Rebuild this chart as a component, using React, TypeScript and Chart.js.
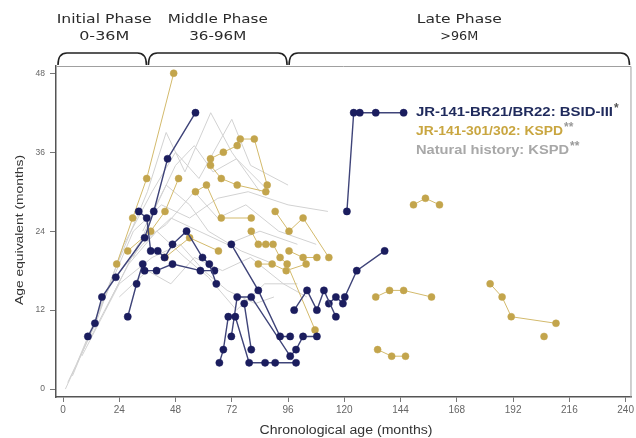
import React, { useEffect, useRef } from 'react';
import { Chart, registerables } from 'chart.js';

Chart.register(...registerables);

// ---- axis ticks ----
const xTickValues = [0, 24, 48, 72, 96, 120, 144, 168, 192, 216, 240];
const yTickValues = [0, 12, 24, 36, 48];

// ---- phases ----
const phaseNames = ['Initial Phase', 'Middle Phase', 'Late Phase'];
const phaseRanges = ['0-36M', '36-96M', '>96M'];
const phaseBounds = [null, 36, 96, null]; // null = plot edge

// ---- legend labels ----
const legendLabels = ['JR-141-BR21/BR22: BSID-III', 'JR-141-301/302: KSPD', 'Natural history: KSPD'];
const legendMarks = ['*', '**', '**'];

// ---- JR-141-BR21/BR22 (BSID-III) subjects: [chronological age, age equivalent] ----
const navyA = [[10.6, 8], [13.6, 10], [16.6, 14], [22.5, 17], [34.8, 23], [38.7, 27], [44.6, 35], [56.5, 42]];
const navyB = [[32.3, 27], [35.7, 26], [37.4, 21], [40.4, 21], [43.3, 20], [46.7, 22], [52.7, 24], [59.5, 20], [62.4, 19], [65.4, 16]];
const navyC = [[27.6, 11], [31.4, 16], [34, 19], [34.8, 18], [39.9, 18], [46.7, 19], [58.6, 18], [64.6, 18]];
const navyD = [[66.7, 4], [68.4, 6], [70.5, 11], [73.5, 11], [79.4, 4], [86.2, 4], [90.5, 4], [99.4, 4]];
const navyE = [[71.8, 22], [83.3, 15], [92.6, 8], [96.9, 8]];
const navyF = [[71.8, 8], [74.3, 14], [80.3, 14], [96.9, 5], [99.4, 6], [102.4, 8], [108.3, 8]];
const navyG = [[77.3, 13], [80.3, 6]];
const navyH = [[98.6, 12], [104.1, 15], [108.3, 12], [111.3, 15], [116.4, 11]];
const navyI = [[113.4, 13], [116.4, 14], [119.4, 13], [120.2, 14], [125.3, 18], [137.2, 21]];
const navyJ = [[121.1, 27], [124, 42], [126.6, 42], [133.4, 42], [145.3, 42]];

// ---- JR-141-301/302 (KSPD) subjects ----
const goldA = [[22.9, 19], [29.7, 26], [35.7, 32], [47.2, 48]];
const goldB = [[27.6, 21], [37.4, 24], [43.5, 27], [49.3, 32]];
const goldC = [[43.5, 20], [54, 23], [66.3, 21]];
const goldD = [[56.5, 30], [61.2, 31], [67.5, 26], [80.3, 26]];
const goldE = [[62.9, 35], [68.4, 36], [74.3, 37], [75.6, 38], [81.6, 38], [87.1, 31]];
const goldF = [[62.9, 34], [67.5, 32], [74.3, 31], [86.5, 30]];
const goldG = [[90.5, 27], [96.4, 24], [102.4, 26], [113.4, 20]];
const goldH = [[80.3, 24], [83.3, 22], [86.5, 22], [89.6, 22], [92.6, 20], [95.6, 19], [107.5, 9]];
const goldI = [[83.3, 19], [89.2, 19], [95.2, 18], [103.7, 19]];
const goldJ = [[96.4, 21], [102.4, 20], [108.3, 20]];
const goldK = [[133.4, 14], [139.3, 15], [145.3, 15], [157.2, 14]];
const goldL = [[134.2, 6], [140.2, 5], [146.1, 5]];
const goldM = [[149.5, 28], [154.6, 29], [160.6, 28]];
const goldN = [[182.2, 16], [187.3, 14], [191.2, 11], [210.3, 10]];
const goldO = [[205.2, 8]];

// ---- Natural history (KSPD) subjects ----
const histA = [[1, 0], [10, 7], [22, 18], [36, 30], [44, 39], [52, 33], [63, 42], [72, 36], [84, 30]];
const histB = [[2, 1], [14, 10], [26, 22], [38, 30], [48, 36], [58, 32], [72, 41], [80, 34], [96, 31]];
const histC = [[4, 2], [18, 14], [30, 24], [42, 28], [54, 26], [66, 29], [79, 30], [96, 28], [113, 27]];
const histD = [[6, 4], [20, 16], [34, 22], [46, 26], [58, 24], [70, 22], [84, 24], [100, 22]];
const histE = [[8, 5], [24, 16], [38, 20], [50, 22], [60, 18], [70, 15], [82, 13], [90, 14]];
const histF = [[12, 8], [28, 19], [40, 24], [52, 20], [62, 17], [74, 12], [86, 16], [100, 16]];
const histG = [[18, 12], [32, 22], [44, 25], [56, 30], [66, 26], [78, 28], [92, 24], [108, 22]];
const histH = [[24, 14], [36, 18], [46, 16], [56, 20], [68, 18], [80, 20], [94, 16], [104, 14]];
const histI = [[30, 20], [40, 28], [48, 34], [56, 37], [64, 33], [74, 35], [88, 30]];
const histJ = [[34, 24], [44, 31], [54, 28], [62, 24], [76, 21], [90, 19]];

const navySubjects = [navyA, navyB, navyC, navyD, navyE, navyF, navyG, navyH, navyI, navyJ];
const goldSubjects = [goldA, goldB, goldC, goldD, goldE, goldF, goldG, goldH, goldI, goldJ, goldK, goldL, goldM, goldN, goldO];
const histSubjects = [histA, histB, histC, histD, histE, histF, histG, histH, histI, histJ];

const NAVY = '#1b1d5e';
const NAVY_LINE = '#3f4479';
const GOLD = '#c3a54c';
const GOLD_LINE = '#d3ba6c';
const HIST = '#d2d2d2';

function toPts(arr: number[][]) {
  return arr.map(([x, y]) => ({ x, y }));
}

function fitText(ctx: CanvasRenderingContext2D, text: string, x: number, y: number, font: string, color: string, width: number | null, align: CanvasTextAlign = 'center', rotate = 0) {
  ctx.save();
  ctx.font = font;
  const w = ctx.measureText(text).width;
  const sx = width ? width / w : 1;
  ctx.translate(x, y);
  if (rotate) ctx.rotate(rotate);
  ctx.scale(sx, 1);
  ctx.textAlign = align;
  ctx.textBaseline = 'middle';
  ctx.fillStyle = color;
  ctx.fillText(text, 0, 0);
  ctx.restore();
}

const annotPlugin = {
  id: 'annot',
  afterDraw(chart: any) {
    const { ctx, chartArea } = chart;
    const { left, right, top, bottom } = chartArea;
    const xs = chart.scales.x;

    // frame top/right
    ctx.save();
    ctx.strokeStyle = '#a0a0a0';
    ctx.lineWidth = 1;
    ctx.beginPath();
    ctx.moveTo(left, top + 0.5);
    ctx.lineTo(right - 0.5, top + 0.5);
    ctx.lineTo(right - 0.5, bottom);
    ctx.stroke();
    ctx.restore();

    // braces
    const bx = phaseBounds.map((b, i) => (b === null ? (i === 0 ? left + 1 : right - 1) : xs.getPixelForValue(b)));
    const yb = top - 1;
    const yt = top - 13;
    const r = 9;
    ctx.save();
    ctx.strokeStyle = '#222';
    ctx.lineWidth = 1.6;
    for (let i = 0; i < 3; i++) {
      const x0 = bx[i] + 1;
      const x1 = bx[i + 1] - 1;
      ctx.beginPath();
      ctx.moveTo(x0, yb);
      ctx.quadraticCurveTo(x0, yt, x0 + r, yt);
      ctx.lineTo(x1 - r, yt);
      ctx.quadraticCurveTo(x1, yt, x1, yb);
      ctx.stroke();
    }
    ctx.restore();

    const nameW = [95, 100, 85];
    const rangeW = [50, 57, 38];
    for (let i = 0; i < 3; i++) {
      const cx = (bx[i] + bx[i + 1]) / 2 + (i === 0 ? 2 : 0);
      fitText(ctx, phaseNames[i], cx, 20, '13px "DejaVu Sans"', '#2a2a2a', nameW[i]);
      fitText(ctx, phaseRanges[i], cx, 37, '13px "DejaVu Sans"', '#2a2a2a', rangeW[i]);
    }

    // legend
    const colors = ['#1f2a5c', '#c9a640', '#a8a8a8'];
    const markColors = ['#555', '#999', '#999'];
    const ly = [113, 132, 151];
    const lw = [197, 147, 153];
    const lx = 416;
    for (let i = 0; i < 3; i++) {
      fitText(ctx, legendLabels[i], lx, ly[i], 'bold 12px "Liberation Sans", Arial', colors[i], lw[i], 'left');
      fitText(ctx, legendMarks[i], lx + lw[i] + 1, ly[i] - 4, 'bold 12px "Liberation Sans", Arial', markColors[i], null, 'left');
    }

    // axis titles
    fitText(ctx, 'Chronological age (months)', 346, 431, '12px "Liberation Sans", Arial', '#333', 173);
    fitText(ctx, 'Age equivalent (months)', 20, 230, '10.5px "Liberation Sans", Arial', '#333', 150, 'center', -Math.PI / 2);
  },
};

export default function App() {
  const ref = useRef<HTMLCanvasElement>(null);

  useEffect(() => {
    if (!ref.current) return;
    const datasets: any[] = [];
    navySubjects.forEach((s, i) =>
      datasets.push({
        label: 'navy' + i,
        data: toPts(s),
        showLine: true,
        borderColor: NAVY_LINE,
        borderWidth: 1.4,
        pointRadius: 3.6,
        pointBackgroundColor: NAVY,
        pointBorderColor: NAVY,
        pointBorderWidth: 0.5,
        order: 1,
      })
    );
    goldSubjects.forEach((s, i) =>
      datasets.push({
        label: 'gold' + i,
        data: toPts(s),
        showLine: true,
        borderColor: GOLD_LINE,
        borderWidth: 1,
        pointRadius: 3.5,
        pointBackgroundColor: GOLD,
        pointBorderColor: GOLD,
        pointBorderWidth: 0.5,
        order: 2,
      })
    );
    histSubjects.forEach((s, i) =>
      datasets.push({
        label: 'hist' + i,
        data: toPts(s),
        showLine: true,
        borderColor: HIST,
        borderWidth: 1,
        pointRadius: 0,
        order: 3,
      })
    );

    const chart = new Chart(ref.current, {
      type: 'scatter',
      data: { datasets },
      options: {
        responsive: false,
        animation: false,
        events: [],
        layout: { padding: { top: 66, right: 2, left: 0, bottom: 0 } },
        plugins: { legend: { display: false }, tooltip: { enabled: false } },
        scales: {
          x: {
            type: 'linear',
            min: -3,
            max: 242.5,
            afterBuildTicks: (axis: any) => {
              axis.ticks = xTickValues.map((v) => ({ value: v }));
            },
            afterFit: (scale: any) => {
              scale.height = 41;
            },
            ticks: { color: '#666', font: { size: 10, family: '"Liberation Sans", Arial' }, padding: 2, maxRotation: 0, autoSkip: false },
            grid: { display: true, drawOnChartArea: false, drawTicks: true, tickLength: 5, color: '#777', tickColor: '#777' },
            border: { display: true, color: '#555', width: 1.5 },
          },
          y: {
            type: 'linear',
            min: -1.2,
            max: 49.1,
            afterBuildTicks: (axis: any) => {
              axis.ticks = yTickValues.map((v) => ({ value: v }));
            },
            afterFit: (scale: any) => {
              scale.width = 56;
            },
            ticks: { color: '#666', font: { size: 8.5, family: '"Liberation Sans", Arial' }, padding: 5, autoSkip: false },
            grid: { display: true, drawOnChartArea: false, drawTicks: true, tickLength: 6, color: '#777', tickColor: '#777' },
            border: { display: true, color: '#555', width: 1.5 },
          },
        },
      },
      plugins: [annotPlugin],
    } as any);
    return () => chart.destroy();
  }, []);

  return (
    <div style={{ position: 'absolute', left: 0, top: 0, width: 636, height: 438, background: '#fff' }}>
      <canvas ref={ref} width={636} height={438} />
    </div>
  );
}
